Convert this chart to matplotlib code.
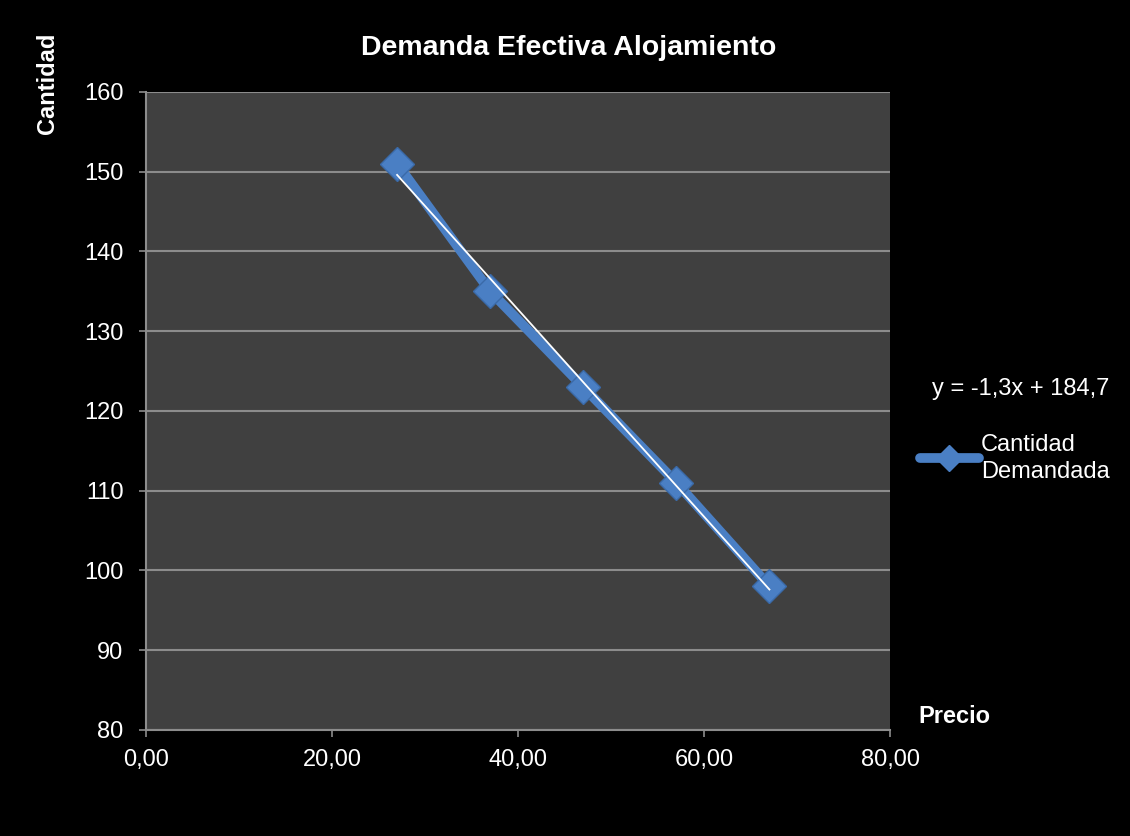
import numpy as np
import matplotlib.pyplot as plt
from matplotlib.lines import Line2D

precio = [27, 37, 47, 57, 67]
cantidad = [151, 135, 123, 111, 98]
x_ticks = [0, 20, 40, 60, 80]
y_ticks = [80, 90, 100, 110, 120, 130, 140, 150, 160]

plt.rcParams['font.family'] = ['Liberation Sans', 'DejaVu Sans']

BLUE = "#4a7fc4"
GRID = "#8c8c8c"

fig = plt.figure(figsize=(11.3, 8.36), dpi=100, facecolor="black")
ax = fig.add_axes([0.129, 0.127, 0.659, 0.763])
ax.set_facecolor("#404040")

ax.set_xlim(0, 80)
ax.set_ylim(80, 160)
ax.set_xticks(x_ticks)
ax.set_yticks(y_ticks)
ax.set_xticklabels([f"{v:.2f}".replace(".", ",") for v in x_ticks])
ax.grid(axis="y", color=GRID, linewidth=1.5)
ax.set_axisbelow(True)

for side in ["top", "right"]:
    ax.spines[side].set_visible(False)
for side in ["left", "bottom"]:
    ax.spines[side].set_color(GRID)
    ax.spines[side].set_linewidth(1.5)
ax.tick_params(colors=GRID, labelcolor="white", labelsize=17, length=5,
               width=1.2)
ax.tick_params(axis="y", pad=11)
ax.tick_params(axis="x", pad=9)

# series
ax.plot(precio, cantidad, color=BLUE, linewidth=7, solid_capstyle="round",
        marker="D", markersize=17, markerfacecolor=BLUE,
        markeredgecolor="#3a6aa8", zorder=3)

# linear trend line
slope, intercept = np.polyfit(precio, cantidad, 1)
xs = np.array([precio[0], precio[-1]])
ax.plot(xs, slope * xs + intercept, color="white", linewidth=1.3, zorder=4)

fig.text(0.503, 0.943, "Demanda Efectiva Alojamiento", color="white",
         fontsize=20.5, fontweight="bold", ha="center", va="center")
fig.text(0.042, 0.900, "Cantidad", color="white", fontsize=17,
         fontweight="bold", rotation=90, ha="center", va="center")
fig.text(0.845, 0.143, "Precio", color="white", fontsize=17,
         fontweight="bold", ha="center", va="center")
fig.text(0.903, 0.535, f"y = {slope:.1f}x + {intercept:.1f}".replace(".", ","),
         color="white", fontsize=17, ha="center", va="center")

handle = Line2D([], [], color=BLUE, linewidth=7, solid_capstyle="round",
                marker="D", markersize=13, markerfacecolor=BLUE)
leg = fig.legend([handle], ["Cantidad\nDemandada"], loc="center left",
                 bbox_to_anchor=(0.814, 0.452), frameon=False, fontsize=17,
                 labelcolor="white", handlelength=2.5, handletextpad=0.1,
                 borderpad=0, borderaxespad=0)
leg.get_texts()[0].set_linespacing(1.3)

plt.savefig("out.png", dpi=100, facecolor="black")
plt.close()
